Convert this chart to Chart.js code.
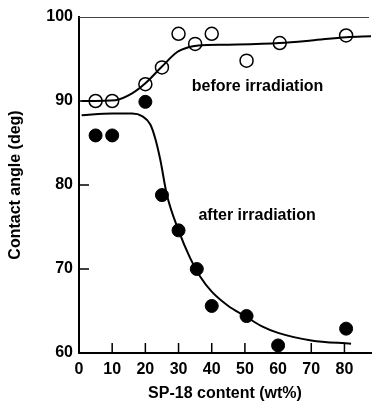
<!DOCTYPE html>
<html>
<head>
<meta charset="utf-8">
<script src="https://cdn.jsdelivr.net/npm/chart.js@4.4.1/dist/chart.umd.min.js"></script>
<style>
  html, body { margin: 0; padding: 0; background: #fff; }
  #wrap { width: 379px; height: 411px; }
</style>
</head>
<body>
<div id="wrap"><canvas id="plot" width="379" height="411"></canvas></div>
<script>
// measured points
const beforeX = [5, 10, 20, 25, 30, 35, 40, 50.5, 60.5, 80.5];
const beforeY = [90, 90, 92, 94, 98, 96.8, 98, 94.8, 96.9, 97.8];
const afterX = [5, 10, 20, 25, 30, 35.5, 40, 50.5, 60, 80.5];
const afterY = [85.9, 85.9, 89.9, 78.8, 74.6, 70.0, 65.6, 64.4, 60.9, 62.9];

// hand-drawn fit curves
const beforeFitX = [0.8, 11, 16, 20, 25, 29.5, 33, 36, 45, 60.5, 70, 80.5, 88];
const beforeFitY = [90, 90.1, 90.9, 92.1, 94.1, 95.8, 96.4, 96.6, 96.7, 96.9, 97.2, 97.6, 97.7];
const afterFitX = [0.8, 10, 16, 19, 21.5, 23, 24.5, 26.5, 30, 33.5, 36.5, 40, 45, 50, 55, 60, 70, 82];
const afterFitY = [88.3, 88.5, 88.5, 88.2, 87.2, 85.5, 83, 78.8, 74.6, 71.3, 69.1, 67.3, 65.6, 64.4, 63.2, 62.4, 61.5, 61.1];

const xTicks = [0, 10, 20, 30, 40, 50, 60, 70, 80];
const yTicks = [60, 70, 80, 90, 100];

const FONT = "'Liberation Sans', Arial, sans-serif";
const pts = (xs, ys) => xs.map((x, i) => ({ x, y: ys[i] }));

// inward ticks, top frame line and curve labels
const decor = {
  id: 'decor',
  afterDraw(chart){
    const { ctx, chartArea: a, scales: { x, y } } = chart;
    ctx.save();
    ctx.strokeStyle = '#000';
    ctx.lineWidth = 1.5;
    ctx.beginPath();
    xTicks.slice(1).forEach(v => {
      const px = x.getPixelForValue(v);
      ctx.moveTo(px, a.bottom); ctx.lineTo(px, a.bottom - 10);
    });
    yTicks.slice(1, -1).forEach(v => {
      const py = y.getPixelForValue(v);
      ctx.moveTo(a.left, py); ctx.lineTo(a.left + 10, py);
    });
    ctx.stroke();

    ctx.strokeStyle = '#444';
    ctx.lineWidth = 1;
    ctx.beginPath();
    ctx.moveTo(a.left, a.top + 0.5); ctx.lineTo(a.right - 2, a.top + 0.5);
    ctx.stroke();

    ctx.fillStyle = '#000';
    ctx.font = 'bold 16px ' + FONT;
    ctx.textBaseline = 'middle';
    ctx.fillText('before irradiation', x.getPixelForValue(34), y.getPixelForValue(91.7));
    ctx.fillText('after irradiation', x.getPixelForValue(36), y.getPixelForValue(76.4));
    ctx.restore();
  }
};

new Chart(document.getElementById('plot'), {
  type: 'scatter',
  data: {
    datasets: [
      { data: pts(beforeFitX, beforeFitY), showLine: true, borderColor: '#000', borderWidth: 2,
        pointRadius: 0, cubicInterpolationMode: 'monotone' },
      { data: pts(afterFitX, afterFitY), showLine: true, borderColor: '#000', borderWidth: 2,
        pointRadius: 0, cubicInterpolationMode: 'monotone' },
      { data: pts(beforeX, beforeY), pointRadius: 6.5, pointBackgroundColor: '#fff',
        pointBorderColor: '#000', pointBorderWidth: 1.5 },
      { data: pts(afterX, afterY), pointRadius: 6.5, pointBackgroundColor: '#000',
        pointBorderColor: '#000', pointBorderWidth: 1 }
    ]
  },
  options: {
    responsive: false,
    animation: false,
    layout: { padding: { top: 17, right: 7, left: 0, bottom: 0 } },
    plugins: { legend: { display: false }, tooltip: { enabled: false } },
    scales: {
      x: {
        type: 'linear', min: 0, max: 88,
        afterBuildTicks: s => { s.ticks = xTicks.map(v => ({ value: v })); },
        afterFit: s => { s.height = 58; },
        grid: { display: false, drawTicks: false },
        border: { color: '#000', width: 2 },
        ticks: { color: '#000', padding: 7, font: { family: FONT, size: 16, weight: 'bold' } },
        title: { display: true, text: 'SP-18 content (wt%)', color: '#000', padding: { top: 0, bottom: 8 },
          font: { family: FONT, size: 16, weight: 'bold' } }
      },
      y: {
        type: 'linear', min: 60, max: 100,
        afterBuildTicks: s => { s.ticks = yTicks.map(v => ({ value: v })); },
        afterFit: s => { s.width = 79; },
        grid: { display: false, drawTicks: false },
        border: { color: '#000', width: 2 },
        ticks: { color: '#000', padding: 6, font: { family: FONT, size: 16, weight: 'bold' } },
        title: { display: true, text: 'Contact angle (deg)', color: '#000', padding: { top: 6, bottom: 0 },
          font: { family: FONT, size: 16, weight: 'bold' } }
      }
    }
  },
  plugins: [decor]
});
</script>
</body>
</html>
